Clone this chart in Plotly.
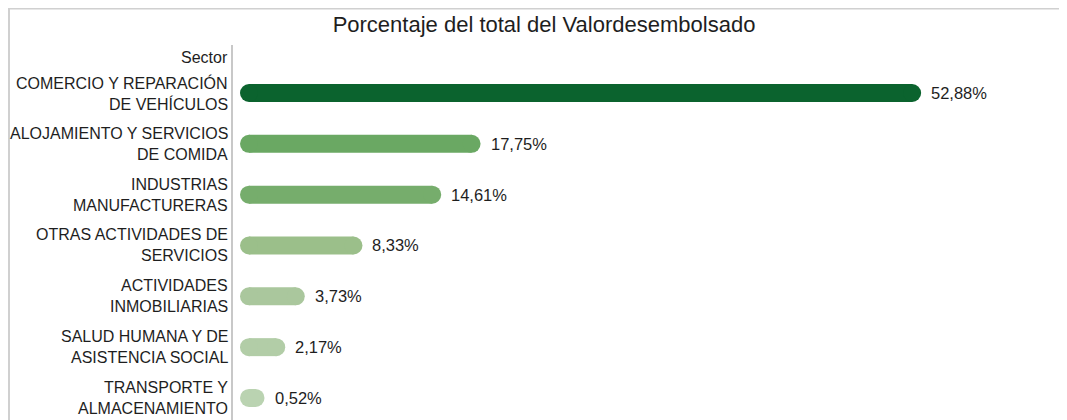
import plotly.graph_objects as go

sector_lines = [
    ["COMERCIO Y REPARACIÓN", "DE VEHÍCULOS"],
    ["ALOJAMIENTO Y SERVICIOS", "DE COMIDA"],
    ["INDUSTRIAS", "MANUFACTURERAS"],
    ["OTRAS ACTIVIDADES DE", "SERVICIOS"],
    ["ACTIVIDADES", "INMOBILIARIAS"],
    ["SALUD HUMANA Y DE", "ASISTENCIA SOCIAL"],
    ["TRANSPORTE Y", "ALMACENAMIENTO"],
]
values = [52.88, 17.75, 14.61, 8.33, 3.73, 2.17, 0.52]
colors = ["#0b632e", "#6aa863", "#76ad6c", "#9bbf8a", "#aac79d", "#b2cda7", "#bad3b1"]

OFF = 8  # page body margin
W, H = 1067, 420
L, R, T, B = 233 - OFF, 0, 45 - OFF, 0
plot_w = W - L - R
plot_h = H - T - B

def px_x(p):
    return (p - OFF - L) / plot_w

def px_y(p):
    return (H - B - (p - OFF)) / plot_h

# axis scale (page pixels)
zero_px = 249
px_per_unit = 12.54
xmin = -(zero_px - 233) / px_per_unit
xmax = (W + OFF - R - zero_px) / px_per_unit
row0_px = 93
row_step = 50.83
ytop = -(row0_px - 45) / row_step
ybot = (H + OFF - B - row0_px) / row_step

font = "Liberation Sans, Arial, sans-serif"

fig = go.Figure()
for i, (v, c) in enumerate(zip(values, colors)):
    fig.add_trace(go.Scatter(
        x=[0, v], y=[i, i],
        mode="lines+markers",
        line=dict(color=c, width=18),
        marker=dict(color=c, size=18, line=dict(width=0)),
        showlegend=False,
        hoverinfo="skip",
        cliponaxis=False,
    ))

annotations = []
for i, (lines, v) in enumerate(zip(sector_lines, values)):
    for j, ln in enumerate(lines):
        annotations.append(dict(
            text=ln, xref="paper", yref="y",
            x=px_x(230), y=i, yshift=10.5 - 21 * j,
            xanchor="right", yanchor="middle", showarrow=False,
            font=dict(family=font, size=16, color="#1e1e1e"),
        ))
    annotations.append(dict(
        text=f"{v:.2f}".replace(".", ",") + "%",
        xref="x", yref="y", x=v, y=i, xshift=17,
        xanchor="left", yanchor="middle", showarrow=False,
        font=dict(family=font, size=16.5, color="#1e1e1e"),
    ))
annotations.append(dict(
    text="Sector", xref="paper", yref="paper",
    x=px_x(230), y=px_y(57), xanchor="right", yanchor="middle",
    showarrow=False, font=dict(family=font, size=16, color="#1e1e1e"),
))

fig.update_xaxes(range=[xmin, xmax], visible=False, showgrid=False, zeroline=False)
fig.update_yaxes(
    range=[ybot, ytop],
    showticklabels=False,
    showgrid=False, zeroline=False,
    showline=True, linecolor="#c8c8c8", linewidth=2,
    ticks="",
)

fig.update_layout(
    width=W, height=H,
    margin=dict(l=L, r=R, t=T, b=B, autoexpand=False),
    paper_bgcolor="white", plot_bgcolor="white",
    title=dict(
        text="Porcentaje del total del Valordesembolsado",
        x=(544 - OFF) / W, xanchor="center",
        y=1 - (24 - OFF) / H, yanchor="middle",
        xref="container", yref="container",
        font=dict(family=font, size=22, color="#1e1e1e"),
    ),
    shapes=[
        dict(type="line", xref="paper", yref="paper",
             x0=px_x(8), x1=px_x(W + OFF + 5), y0=px_y(8.5), y1=px_y(8.5),
             line=dict(color="#d0d0d0", width=2)),
        dict(type="line", xref="paper", yref="paper",
             x0=px_x(9), x1=px_x(9), y0=px_y(7.5), y1=px_y(H + OFF + 5),
             line=dict(color="#d0d0d0", width=2)),
    ],
    annotations=annotations,
)

fig.write_html("out.html")
